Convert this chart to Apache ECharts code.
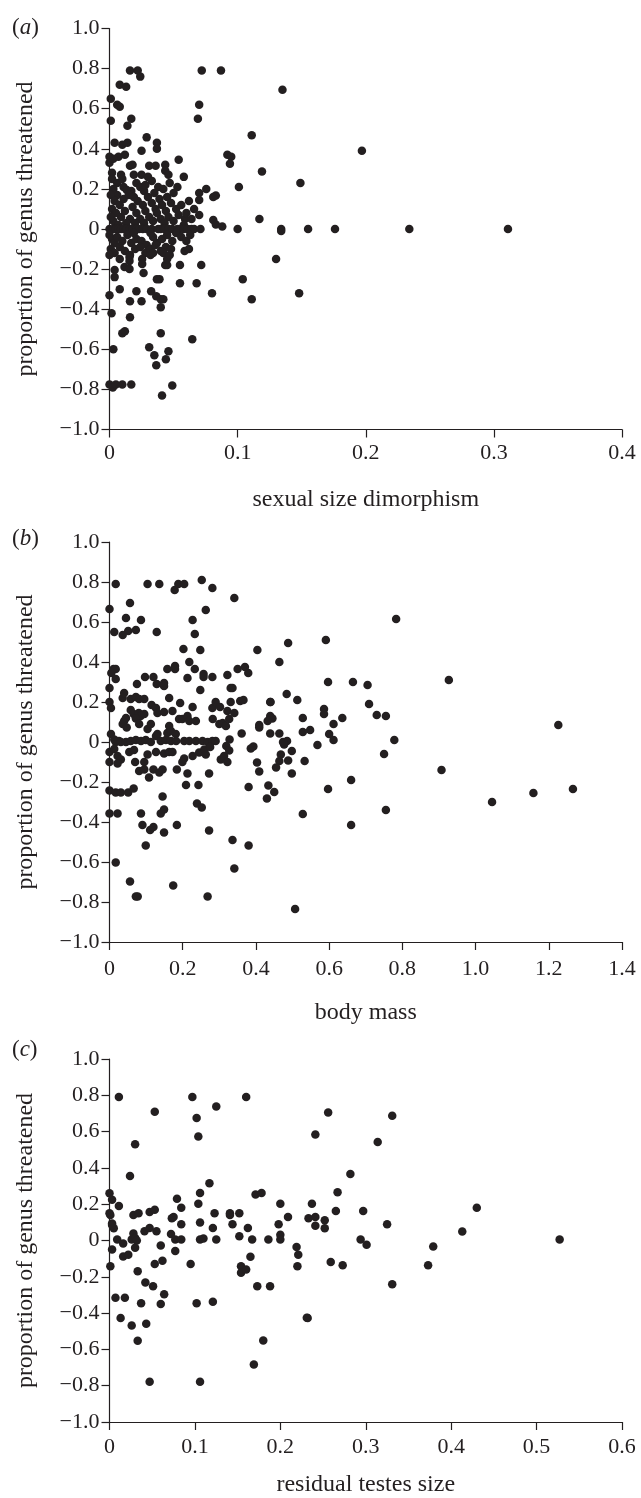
<!DOCTYPE html>
<html><head><meta charset="utf-8">
<script src="https://cdn.jsdelivr.net/npm/echarts/dist/echarts.min.js"></script>
<style>html,body{margin:0;padding:0;background:#fff}#c{width:641px;height:1498px}</style>
</head><body><div id="c"></div><script>
// ---- data ----
var panelLetters = ['a', 'b', 'c'];
var xTitles = ['sexual size dimorphism', 'body mass', 'residual testes size'];
var yTitle = 'proportion of genus threatened';
var xMax = [0.4, 1.4, 0.6];
var xStep = [0.1, 0.2, 0.1];
var yMin = -1.0, yMax = 1.0, yStep = 0.2;

// (a) sexual size dimorphism vs proportion threatened
var sizeDimorphism = [
[0.016,0.79],[0.022,0.79],[0.024,0.76],[0.072,0.79],[0.087,0.79],[0.135,0.695],
[0.008,0.72],[0.013,0.71],[0.001,0.65],[0.006,0.62],[0.008,0.61],[0.070,0.62],[0.069,0.55],
[0.001,0.54],[0.017,0.55],[0.014,0.515],[0.029,0.457],[0.037,0.43],[0.037,0.40],[0.111,0.467],
[0.004,0.43],[0.010,0.42],[0.014,0.43],[0.025,0.39],
[0.000,0.36],[0.007,0.36],[0.012,0.37],[0.000,0.33],[0.003,0.35],[0.016,0.315],[0.018,0.32],[0.031,0.315],[0.036,0.315],[0.0435,0.32],[0.054,0.345],[0.092,0.37],[0.095,0.36],[0.094,0.325],[0.197,0.39],
[0.002,0.28],[0.009,0.27],[0.025,0.27],[0.030,0.26],[0.0435,0.29],[0.046,0.27],[0.058,0.26],[0.119,0.287],[0.149,0.23],
[0.002,0.25],[0.006,0.23],[0.010,0.25],[0.019,0.27],[0.033,0.24],[0.038,0.21],[0.035,0.18],[0.027,0.19],[0.017,0.19],[0.006,0.17],[0.045,0.16],[0.050,0.18],[0.062,0.14],[0.066,0.10],[0.059,0.05],
[0.003,0.20],[0.011,0.21],[0.0135,0.195],[0.021,0.23],[0.024,0.21],[0.028,0.22],[0.042,0.20],[0.047,0.23],[0.053,0.21],[0.0755,0.20],[0.070,0.18],[0.070,0.145],[0.083,0.167],[0.101,0.21],
[0.001,0.17],[0.004,0.14],[0.008,0.12],[0.011,0.15],[0.015,0.17],[0.019,0.16],[0.022,0.14],[0.026,0.12],[0.030,0.16],[0.033,0.13],[0.036,0.10],[0.039,0.15],[0.041,0.12],[0.044,0.09],[0.048,0.13],[0.052,0.10],[0.056,0.12],[0.060,0.08],[0.064,0.05],[0.070,0.07],[0.081,0.045],[0.081,0.16],
[0.002,0.10],[0.005,0.08],[0.009,0.06],[0.012,0.09],[0.016,0.05],[0.018,0.11],[0.021,0.08],[0.024,0.05],[0.028,0.09],[0.031,0.06],[0.034,0.04],[0.037,0.08],[0.040,0.05],[0.046,0.06],[0.050,0.04],[0.054,0.07],[0.003,0.04],[0.007,0.02],[0.013,0.03],[0.027,0.03],[0.043,0.03],[0.058,0.02],[0.083,0.023],[0.088,0.012],[0.117,0.05],[0.020,0.03],[0.001,0.06],
[0.000,0.0],[0.003,0.0],[0.005,0.0],[0.007,0.0],[0.009,0.0],[0.011,0.0],[0.013,0.0],[0.016,0.0],[0.018,0.0],[0.021,0.0],[0.023,0.0],[0.026,0.0],[0.029,0.0],[0.033,0.0],[0.038,0.0],[0.040,0.0],[0.043,0.0],[0.046,0.0],[0.049,0.0],[0.053,0.0],[0.055,0.0],[0.058,0.0],[0.061,0.0],[0.064,0.0],[0.066,0.0],[0.071,0.0],[0.100,0.0],[0.134,0.0],[0.134,-0.01],[0.155,0.0],[0.176,0.0],[0.234,0.0],[0.311,0.0],
[0.000,-0.03],[0.002,-0.05],[0.004,-0.07],[0.006,-0.04],[0.010,-0.06],[0.014,-0.03],[0.017,-0.07],[0.021,-0.05],[0.025,-0.06],[0.029,-0.08],[0.034,-0.04],[0.037,-0.07],[0.041,-0.05],[0.045,-0.03],[0.049,-0.06],[0.052,-0.02],[0.056,-0.04],[0.032,-0.02],[0.019,-0.02],[0.060,-0.06],[0.063,-0.03],
[0.001,-0.10],[0.004,-0.12],[0.008,-0.09],[0.012,-0.11],[0.016,-0.13],[0.020,-0.10],[0.024,-0.09],[0.028,-0.12],[0.032,-0.10],[0.036,-0.08],[0.040,-0.11],[0.044,-0.09],[0.048,-0.10],
[0.000,-0.13],[0.008,-0.15],[0.0156,-0.14],[0.0156,-0.16],[0.0255,-0.15],[0.0255,-0.175],[0.032,-0.13],[0.034,-0.12],[0.042,-0.12],[0.0435,-0.18],[0.045,-0.18],[0.045,-0.15],[0.047,-0.13],[0.0586,-0.11],[0.062,-0.10],
[0.004,-0.205],[0.004,-0.24],[0.0117,-0.19],[0.0156,-0.20],[0.0266,-0.22],[0.037,-0.25],[0.039,-0.25],[0.055,-0.18],[0.055,-0.27],[0.068,-0.27],[0.0716,-0.18],[0.130,-0.15],[0.104,-0.25],[0.080,-0.32],
[0.000,-0.33],[0.008,-0.30],[0.021,-0.31],[0.0325,-0.31],[0.0365,-0.335],[0.025,-0.36],[0.016,-0.36],[0.040,-0.35],[0.042,-0.35],[0.040,-0.39],[0.111,-0.35],[0.148,-0.32],
[0.0016,-0.42],[0.016,-0.44],[0.010,-0.52],[0.012,-0.51],[0.040,-0.52],[0.0646,-0.55],
[0.003,-0.60],[0.031,-0.59],[0.035,-0.63],[0.0365,-0.68],[0.044,-0.65],[0.046,-0.61],
[0.000,-0.775],[0.0026,-0.79],[0.005,-0.775],[0.010,-0.775],[0.017,-0.775],[0.049,-0.78],[0.041,-0.83]
];

// (b) body mass vs proportion threatened
var bodyMass = [
[0.017,0.79],[0.104,0.79],[0.136,0.79],[0.178,0.76],[0.188,0.79],[0.204,0.79],[0.252,0.81],[0.281,0.77],[0.341,0.72],
[0.0,0.665],[0.056,0.695],[0.045,0.62],[0.086,0.61],[0.072,0.56],[0.051,0.555],[0.036,0.535],[0.013,0.55],[0.129,0.55],[0.263,0.66],[0.227,0.61],[0.233,0.54],
[0.202,0.465],[0.248,0.46],[0.218,0.40],[0.213,0.32],[0.233,0.365],[0.158,0.365],[0.179,0.38],[0.179,0.365],[0.257,0.34],[0.257,0.325],[0.281,0.325],[0.248,0.26],[0.322,0.335],[0.350,0.365],[0.370,0.375],[0.379,0.345],[0.336,0.27],[0.331,0.27],[0.404,0.46],[0.464,0.40],[0.488,0.495],[0.484,0.24],[0.513,0.21],[0.44,0.20],[0.591,0.51],[0.597,0.30],[0.665,0.30],[0.705,0.285],[0.709,0.19],[0.73,0.135],[0.755,0.13],[0.783,0.615],[0.927,0.31],
[0.586,0.165],[0.586,0.14],[0.636,0.12],[0.612,0.09],[0.528,0.12],[0.528,0.05],[0.548,0.06],[0.60,0.04],[0.612,0.01],[0.568,-0.015],[0.778,0.01],[0.75,-0.06],[0.533,-0.095],[0.907,-0.14],[1.226,0.085],[0.66,-0.19],[0.597,-0.235],[1.266,-0.235],[1.158,-0.255],[1.045,-0.30],[0.755,-0.34],[0.528,-0.36],[0.66,-0.415],
[0.281,0.17],[0.29,0.20],[0.302,0.175],[0.322,0.155],[0.331,0.20],[0.341,0.145],[0.357,0.205],[0.366,0.21],[0.439,0.20],
[0.439,0.13],[0.445,0.117],[0.432,0.105],[0.409,0.085],[0.409,0.072],[0.361,0.042],[0.439,0.042],[0.464,0.042],[0.485,0.005],[0.477,-0.012],[0.474,0.0],[0.468,-0.062],[0.498,-0.045],[0.488,-0.092],[0.464,-0.095],[0.498,-0.157],[0.455,-0.128],[0.409,-0.148],[0.403,-0.103],[0.386,-0.032],[0.393,-0.023],[0.38,-0.225],[0.434,-0.217],[0.45,-0.25],[0.43,-0.282],[0.336,-0.49],[0.38,-0.517],[0.341,-0.632],[0.507,-0.835],
[0.011,0.365],[0.017,0.365],[0.005,0.345],[0.017,0.315],[0.0,0.27],[0.0,0.20],[0.004,0.17],[0.036,0.22],[0.040,0.245],[0.058,0.215],[0.072,0.225],[0.081,0.215],[0.095,0.215],[0.075,0.29],[0.097,0.325],[0.12,0.325],[0.129,0.29],[0.149,0.295],[0.149,0.28],[0.163,0.22],[0.115,0.185],[0.127,0.17],[0.131,0.145],[0.149,0.15],[0.172,0.155],[0.193,0.195],[0.227,0.175],
[0.058,0.16],[0.066,0.14],[0.08,0.145],[0.085,0.13],[0.072,0.117],[0.095,0.14],
[0.04,0.105],[0.045,0.12],[0.036,0.09],[0.047,0.072],[0.081,0.09],[0.104,0.065],[0.113,0.09],[0.131,0.04],[0.158,0.045],[0.163,0.08],[0.168,0.055],[0.181,0.04],[0.19,0.115],[0.199,0.115],[0.213,0.13],[0.218,0.105],[0.236,0.105],[0.282,0.115],[0.30,0.09],[0.309,0.095],[0.318,0.08],[0.327,0.115],
[0.004,0.04],[0.013,0.013],[0.026,0.005],[0.319,-0.02],[0.328,0.013],
[0.017,0.0],[0.031,0.0],[0.045,0.0],[0.058,0.005],[0.072,0.01],[0.086,0.005],[0.099,0.01],[0.113,0.0],[0.127,0.03],[0.14,0.005],[0.154,0.01],[0.168,0.005],[0.182,0.005],[0.204,0.005],[0.218,0.005],[0.236,0.005],[0.254,0.005],[0.268,0.0],[0.281,0.005],[0.29,0.005],
[0.0,-0.05],[0.013,-0.035],[0.022,-0.07],[0.031,-0.087],[0.054,-0.05],[0.067,-0.04],[0.104,-0.062],[0.127,-0.05],[0.149,-0.058],[0.163,-0.05],[0.172,-0.05],[0.204,-0.083],[0.227,-0.07],[0.245,-0.053],[0.259,-0.037],[0.263,-0.062],[0.275,-0.025],[0.304,-0.087],[0.313,-0.07],[0.327,-0.042],[0.322,-0.1],
[0.0,-0.1],[0.022,-0.107],[0.07,-0.1],[0.095,-0.1],[0.081,-0.145],[0.095,-0.137],[0.108,-0.178],[0.12,-0.137],[0.136,-0.153],[0.145,-0.137],[0.184,-0.137],[0.199,-0.1],[0.213,-0.158],[0.272,-0.158],
[0.0,-0.242],[0.017,-0.253],[0.031,-0.253],[0.051,-0.253],[0.066,-0.233],[0.209,-0.215],[0.243,-0.215],[0.145,-0.273],
[0.149,-0.337],[0.14,-0.357],[0.239,-0.308],[0.252,-0.328],[0.184,-0.415],[0.272,-0.442],[0.149,-0.453],[0.09,-0.415],[0.111,-0.44],[0.12,-0.425],[0.0,-0.357],[0.022,-0.357],[0.086,-0.357],[0.099,-0.517],[0.017,-0.603],[0.056,-0.698],[0.072,-0.773],[0.077,-0.773],[0.174,-0.717],[0.268,-0.773]
];

// (c) residual testes size vs proportion threatened
var testesSize = [
[0.011,0.79],[0.053,0.71],[0.030,0.53],[0.024,0.355],[0.0,0.26],[0.003,0.225],[0.011,0.19],[0.0,0.15],[0.001,0.14],[0.003,0.094],[0.005,0.068],[0.028,0.14],[0.034,0.15],[0.047,0.157],[0.053,0.17],[0.041,0.051],[0.047,0.069],[0.055,0.051],[0.079,0.23],[0.084,0.18],[0.073,0.123],[0.075,0.13],[0.084,0.09],[0.097,0.79],[0.102,0.675],[0.104,0.573],[0.106,0.262],[0.104,0.203],[0.117,0.316],[0.106,0.099],[0.123,0.15],[0.121,0.069],[0.125,0.738],[0.160,0.79],[0.141,0.15],[0.141,0.14],[0.152,0.15],[0.144,0.09],[0.162,0.069],[0.171,0.253],[0.178,0.262],[0.2,0.203],[0.198,0.09],[0.209,0.13],[0.241,0.584],[0.237,0.202],[0.233,0.123],[0.241,0.13],[0.241,0.081],
[0.003,0.086],[0.003,-0.049],[0.001,-0.142],[0.009,0.005],[0.016,-0.016],[0.016,-0.088],[0.022,-0.079],[0.026,0.005],[0.028,0.038],[0.03,0.014],[0.032,0.0],[0.03,-0.04],[0.033,-0.169],[0.007,-0.315],[0.018,-0.315],[0.013,-0.427],[0.026,-0.468],[0.033,-0.553],[0.037,-0.346],[0.042,-0.232],[0.043,-0.459],
[0.053,-0.13],[0.051,-0.252],[0.06,-0.027],[0.062,-0.112],[0.064,-0.296],[0.047,-0.778],[0.06,-0.35],[0.072,0.036],[0.077,0.005],[0.077,-0.058],[0.084,0.005],[0.095,-0.13],[0.102,-0.346],[0.106,-0.778],[0.106,0.005],[0.11,0.011],[0.121,-0.337],[0.125,0.005],[0.152,0.023],[0.154,-0.142],[0.154,-0.178],[0.16,-0.16],[0.167,0.005],[0.165,-0.09],[0.173,-0.252],[0.188,-0.252],[0.18,-0.551],[0.169,-0.683],[0.186,0.005],[0.2,0.032],[0.2,0.005],[0.219,-0.036],[0.221,-0.079],[0.22,-0.142],[0.232,-0.427],
[0.256,0.705],[0.331,0.687],[0.314,0.543],[0.282,0.367],[0.267,0.266],[0.265,0.163],[0.297,0.163],[0.252,0.112],[0.252,0.068],[0.325,0.09],[0.43,0.181],[0.413,0.049],[0.294,0.005],[0.301,-0.024],[0.527,0.005],[0.379,-0.033],[0.259,-0.118],[0.273,-0.136],[0.373,-0.136],[0.331,-0.241],[0.231,-0.425]
];
var panelData = [sizeDimorphism, bodyMass, testesSize];

// ---- layout / style ----
var INK = '#231f20';
var FONT = 'Liberation Serif';
var grids = [
  {left: 109.5, top: 28.5, width: 512.5, height: 401},
  {left: 109.5, top: 542, width: 512.5, height: 400},
  {left: 109.5, top: 1059, width: 512.5, height: 369}
];
var xLabelMargin = [13, 16, 14];
var xNameGap = [58, 59, 51];
var letterY = [28, 539, 1050];

function numFmt(v) {
  if (Math.abs(v) < 1e-9) return '0';
  return (v < 0 ? '\u2212' : '') + Math.abs(v).toFixed(1);
}

var xAxes = [], yAxes = [], series = [], graphics = [];
for (var i = 0; i < 3; i++) {
  xAxes.push({
    type: 'value', gridIndex: i, min: 0, max: xMax[i], interval: xStep[i],
    axisLine: {show: true, onZero: false, lineStyle: {color: INK, width: 1.2}},
    axisTick: {show: true, inside: false, length: 8, lineStyle: {color: INK, width: 1.2}},
    splitLine: {show: false},
    axisLabel: {color: INK, fontFamily: FONT, fontSize: 22, margin: xLabelMargin[i], formatter: numFmt},
    name: xTitles[i], nameLocation: 'middle', nameGap: xNameGap[i],
    nameTextStyle: {color: INK, fontFamily: FONT, fontSize: 24}
  });
  yAxes.push({
    type: 'value', gridIndex: i, min: yMin, max: yMax, interval: yStep,
    axisLine: {show: true, onZero: false, lineStyle: {color: INK, width: 1.2}},
    axisTick: {show: true, inside: false, length: 8, lineStyle: {color: INK, width: 1.2}},
    splitLine: {show: false},
    axisLabel: {color: INK, fontFamily: FONT, fontSize: 22, margin: 10, formatter: numFmt},
    name: yTitle, nameLocation: 'middle', nameGap: 72, nameRotate: 90,
    nameTextStyle: {color: INK, fontFamily: FONT, fontSize: 24}
  });
  series.push({
    type: 'scatter', xAxisIndex: i, yAxisIndex: i, data: panelData[i],
    symbol: 'circle', symbolSize: 8.5, itemStyle: {color: INK, opacity: 1}, silent: true
  });
  graphics.push({
    type: 'text', x: 12, y: letterY[i],
    style: {
      text: '({i|' + panelLetters[i] + '})',
      rich: {i: {fontStyle: 'italic', fontFamily: FONT, fontSize: 23, fill: INK}},
      fontFamily: FONT, fontSize: 23, fill: INK, verticalAlign: 'middle'
    }
  });
}

var chart = echarts.init(document.getElementById('c'), null, {renderer: 'canvas'});
chart.setOption({
  animation: false,
  backgroundColor: '#ffffff',
  grid: grids,
  xAxis: xAxes,
  yAxis: yAxes,
  series: series,
  graphic: graphics
});
</script></body></html>
